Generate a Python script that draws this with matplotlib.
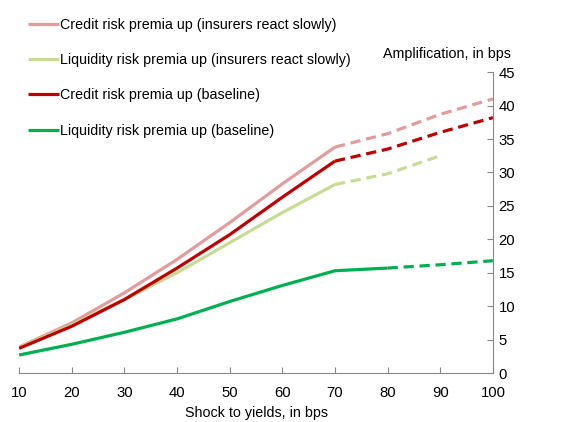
import matplotlib.pyplot as plt
import numpy as np

plt.rcParams['font.family'] = ['Liberation Sans', 'DejaVu Sans']

# Shock to yields (bps) and amplification (bps) for each scenario
shock = np.array([10, 20, 30, 40, 50, 60, 70, 80, 90, 100])

credit_slow = np.array([3.9, 7.5, 12.0, 17.0, 22.5, 28.3, 33.8, 35.8, 38.7, 41.0])
liq_slow = np.array([3.8, 7.2, 11.0, 15.0, 19.5, 24.0, 28.2, 29.8, 32.5, np.nan])
credit_base = np.array([3.7, 7.0, 11.0, 15.7, 20.7, 26.3, 31.7, 33.5, 36.0, 38.2])
liq_base = np.array([2.7, 4.3, 6.1, 8.1, 10.7, 13.1, 15.3, 15.7, 16.2, 16.8])

# index where the solid part ends and the dashed extrapolation starts
solid_end = {"credit_slow": 6, "liq_slow": 6, "credit_base": 6, "liq_base": 7}

series = [
    ("Credit risk premia up (insurers react slowly)", credit_slow, "#E29C9C", solid_end["credit_slow"]),
    ("Liquidity risk premia up (insurers react slowly)", liq_slow, "#C6DC95", solid_end["liq_slow"]),
    ("Credit risk premia up (baseline)", credit_base, "#C00000", solid_end["credit_base"]),
    ("Liquidity risk premia up (baseline)", liq_base, "#00B050", solid_end["liq_base"]),
]

FS = 10.3

fig = plt.figure(figsize=(5.64, 4.22), dpi=100)
ax = fig.add_axes([0.034, 0.116, 0.840, 0.713])

for label, vals, col, k in series:
    ax.plot(shock[:k + 1], vals[:k + 1], color=col, lw=2.3, label=label, solid_capstyle='butt')
    ax.plot(shock[k:], vals[k:], color=col, lw=2.3, linestyle=(0, (3.2, 1.8)), dash_capstyle='butt')

ax.set_xlim(10, 100)
ax.set_ylim(0, 45)
ax.set_xticks(np.arange(10, 101, 10))
ax.set_yticks(np.arange(0, 46, 5))

ax.yaxis.tick_right()
for s in ['top', 'left']:
    ax.spines[s].set_visible(False)
for s in ['right', 'bottom']:
    ax.spines[s].set_color('#888888')
ax.tick_params(axis='both', direction='in', length=4, color='#888888', labelsize=FS + 0.4)
ax.tick_params(axis='x', pad=9)
ax.tick_params(axis='y', pad=4)

ax.set_xlabel("Shock to yields, in bps", fontsize=FS, labelpad=5)
fig.text(0.905, 0.855, "Amplification, in bps", fontsize=FS, ha='right', va='bottom')

leg = fig.legend(loc='upper left', bbox_to_anchor=(0.04, 0.972), frameon=False,
                 fontsize=FS, handlelength=2.15, handletextpad=0.1, labelspacing=1.5,
                 borderaxespad=0)

fig.savefig("out.png", dpi=100)
